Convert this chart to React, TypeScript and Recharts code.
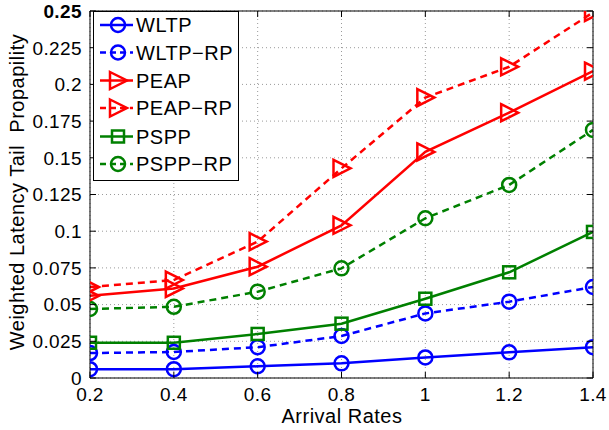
import React from 'react';
import { LineChart, Line, XAxis, YAxis, CartesianGrid } from 'recharts';

const arrivalRates = [0.2, 0.4, 0.6, 0.8, 1.0, 1.2, 1.4];
const wltp = [0.006, 0.006, 0.008, 0.010, 0.014, 0.0175, 0.021];
const wltpRp = [0.017, 0.0177, 0.021, 0.0286, 0.044, 0.052, 0.062];
const peap = [0.056, 0.061, 0.0758, 0.104, 0.154, 0.1807, 0.209];
const peapRp = [0.062, 0.0667, 0.0929, 0.1428, 0.191, 0.212, 0.249];
const pspp = [0.024, 0.024, 0.030, 0.037, 0.054, 0.072, 0.0995];
const psppRp = [0.047, 0.0485, 0.0588, 0.0747, 0.1088, 0.1315, 0.169];

const xTicks = [0.2, 0.4, 0.6, 0.8, 1.0, 1.2, 1.4];
const xTickLabels = ['0.2', '0.4', '0.6', '0.8', '1', '1.2', '1.4'];
const yTicks = [0, 0.025, 0.05, 0.075, 0.1, 0.125, 0.15, 0.175, 0.2, 0.225, 0.25];
const yTickLabels = ['0', '0.025', '0.05', '0.075', '0.1', '0.125', '0.15', '0.175', '0.2', '0.225', '0.25'];

const seriesNames = ['WLTP', 'WLTP\u2212RP', 'PEAP', 'PEAP\u2212RP', 'PSPP', 'PSPP\u2212RP'];

const data = arrivalRates.map((x, i) => ({
  x,
  wltp: wltp[i],
  wltpRp: wltpRp[i],
  peap: peap[i],
  peapRp: peapRp[i],
  pspp: pspp[i],
  psppRp: psppRp[i],
}));

const BLUE = '#0000ff';
const RED = '#ff0000';
const GREEN = '#008000';
const FONT = '"Liberation Sans", Arial, Helvetica, sans-serif';
const LW = 2.5;
const DASH = '7 5';

type MarkerKind = 'circle' | 'triangle' | 'square';

const MarkerShape = ({ kind, cx, cy, color }: { kind: MarkerKind; cx: number; cy: number; color: string }) => {
  if (kind === 'circle') {
    return <circle cx={cx} cy={cy} r={7} fill="none" stroke={color} strokeWidth={LW} />;
  }
  if (kind === 'triangle') {
    const pts = `${cx - 8},${cy - 8.5} ${cx + 9},${cy} ${cx - 8},${cy + 8.5}`;
    return <polygon points={pts} fill="none" stroke={color} strokeWidth={LW} strokeLinejoin="miter" />;
  }
  return <rect x={cx - 6} y={cy - 6} width={12} height={12} fill="none" stroke={color} strokeWidth={LW} />;
};

const makeDot = (kind: MarkerKind, color: string) => (props: any) => {
  const { cx, cy, index } = props;
  if (cx == null || cy == null) return <g key={`d-${index}`} />;
  return (
    <g key={`d-${kind}-${color}-${index}`}>
      <MarkerShape kind={kind} cx={cx} cy={cy} color={color} />
    </g>
  );
};

const fmtX = (v: number) => {
  const i = xTicks.findIndex((t) => Math.abs(t - v) < 1e-9);
  return i >= 0 ? xTickLabels[i] : String(v);
};
const fmtY = (v: number) => {
  const i = yTicks.findIndex((t) => Math.abs(t - v) < 1e-9);
  return i >= 0 ? yTickLabels[i] : String(v);
};

const LeftTick = (props: any) => {
  const { x, y, payload } = props;
  const isTop = Math.abs(payload.value - 0.25) < 1e-9;
  return (
    <g>
      <line x1={x} x2={x + 6} y1={y} y2={y} stroke="#000" strokeWidth={1} />
      <text
        x={x - 8}
        y={y}
        dy="0.36em"
        textAnchor="end"
        fontSize={19}
        fontFamily={FONT}
        letterSpacing={0.4}
        fontWeight={isTop ? 'bold' : 'normal'}
        fill="#000"
      >
        {fmtY(payload.value)}
      </text>
    </g>
  );
};

const RightTick = (props: any) => {
  const { x, y } = props;
  return <line x1={x} x2={x - 6} y1={y} y2={y} stroke="#000" strokeWidth={1} />;
};

const BottomTick = (props: any) => {
  const { x, y, payload } = props;
  return (
    <g>
      <line x1={x} x2={x} y1={y} y2={y - 6} stroke="#000" strokeWidth={1} />
      <text
        x={x}
        y={y + 16}
        dy="0.36em"
        textAnchor="middle"
        fontSize={19}
        fontFamily={FONT}
        letterSpacing={0.4}
        fill="#000"
      >
        {fmtX(payload.value)}
      </text>
    </g>
  );
};

const TopTick = (props: any) => {
  const { x, y } = props;
  return <line x1={x} x2={x} y1={y} y2={y + 6} stroke="#000" strokeWidth={1} />;
};

const legendItems: { name: string; color: string; dashed: boolean; kind: MarkerKind }[] = [
  { name: seriesNames[0], color: BLUE, dashed: false, kind: 'circle' },
  { name: seriesNames[1], color: BLUE, dashed: true, kind: 'circle' },
  { name: seriesNames[2], color: RED, dashed: false, kind: 'triangle' },
  { name: seriesNames[3], color: RED, dashed: true, kind: 'triangle' },
  { name: seriesNames[4], color: GREEN, dashed: false, kind: 'square' },
  { name: seriesNames[5], color: GREEN, dashed: true, kind: 'circle' },
];

const LegendBox = () => {
  const rowY = [25, 52.5, 80.5, 108, 136.5, 164];
  return (
    <svg
      width={609}
      height={430}
      style={{ position: 'absolute', left: 0, top: 0, pointerEvents: 'none' }}
    >
      <rect x={93.5} y={11.5} width={145} height={169} fill="#fff" stroke="#000" strokeWidth={1} />
      {legendItems.map((it, i) => (
        <g key={it.name}>
          <line
            x1={100}
            x2={133}
            y1={rowY[i]}
            y2={rowY[i]}
            stroke={it.color}
            strokeWidth={LW}
            strokeDasharray={it.dashed ? '6 4' : undefined}
          />
          <MarkerShape kind={it.kind} cx={118} cy={rowY[i]} color={it.color} />
          <text
            x={136}
            y={rowY[i]}
            dy="0.36em"
            fontSize={20}
            fontFamily={FONT}
            letterSpacing={0.5}
            fill="#000"
          >
            {it.name}
          </text>
        </g>
      ))}
    </svg>
  );
};

export default function App() {
  return (
    <div style={{ position: 'absolute', left: 0, top: 0, width: 609, height: 430, background: '#fff' }}>
      <LineChart
        width={609}
        height={430}
        data={data}
        margin={{ top: 10, right: 15, bottom: 22, left: 30 }}
      >
        <CartesianGrid stroke="#9a9a9a" strokeDasharray="1 3" strokeWidth={1} />
        <XAxis
          dataKey="x"
          type="number"
          domain={[0.2, 1.4]}
          ticks={xTicks}
          interval={0}
          height={30}
          tickSize={0}
          tickMargin={0}
          tickLine={false}
          axisLine={{ stroke: '#000', strokeWidth: 1 }}
          tick={<BottomTick />}
          allowDataOverflow
        />
        <XAxis
          xAxisId="top"
          orientation="top"
          dataKey="x"
          type="number"
          domain={[0.2, 1.4]}
          ticks={xTicks}
          interval={0}
          height={1}
          tickSize={0}
          tickMargin={0}
          tickLine={false}
          axisLine={{ stroke: '#000', strokeWidth: 1 }}
          tick={<TopTick />}
          allowDataOverflow
        />
        <YAxis
          type="number"
          domain={[0, 0.25]}
          ticks={yTicks}
          interval={0}
          width={60}
          tickSize={0}
          tickMargin={0}
          tickLine={false}
          axisLine={{ stroke: '#000', strokeWidth: 1 }}
          tick={<LeftTick />}
          allowDataOverflow
        />
        <YAxis
          yAxisId="right"
          orientation="right"
          type="number"
          domain={[0, 0.25]}
          ticks={yTicks}
          interval={0}
          width={1}
          tickSize={0}
          tickMargin={0}
          tickLine={false}
          axisLine={{ stroke: '#000', strokeWidth: 1 }}
          tick={<RightTick />}
          allowDataOverflow
        />
        <Line dataKey="wltp" name={seriesNames[0]} stroke={BLUE} strokeWidth={LW} dot={makeDot('circle', BLUE)} isAnimationActive={false} activeDot={false} />
        <Line dataKey="wltpRp" name={seriesNames[1]} stroke={BLUE} strokeWidth={LW} strokeDasharray={DASH} dot={makeDot('circle', BLUE)} isAnimationActive={false} activeDot={false} />
        <Line dataKey="pspp" name={seriesNames[4]} stroke={GREEN} strokeWidth={LW} dot={makeDot('square', GREEN)} isAnimationActive={false} activeDot={false} />
        <Line dataKey="psppRp" name={seriesNames[5]} stroke={GREEN} strokeWidth={LW} strokeDasharray={DASH} dot={makeDot('circle', GREEN)} isAnimationActive={false} activeDot={false} />
        <Line dataKey="peap" name={seriesNames[2]} stroke={RED} strokeWidth={LW} dot={makeDot('triangle', RED)} isAnimationActive={false} activeDot={false} />
        <Line dataKey="peapRp" name={seriesNames[3]} stroke={RED} strokeWidth={LW} strokeDasharray={DASH} dot={makeDot('triangle', RED)} isAnimationActive={false} activeDot={false} />
      </LineChart>
      <LegendBox />
      <svg width={609} height={430} style={{ position: 'absolute', left: 0, top: 0, pointerEvents: 'none' }}>
        <text
          x={342}
          y={416}
          dy="0.36em"
          textAnchor="middle"
          fontSize={20}
          fontFamily={FONT}
          letterSpacing={0.5}
          fill="#000"
        >
          Arrival Rates
        </text>
        <text
          x={0}
          y={0}
          transform="translate(17 192) rotate(-90)"
          dy="0.36em"
          textAnchor="middle"
          fontSize={20}
          fontFamily={FONT}
          letterSpacing={0.5}
          fill="#000"
          style={{ whiteSpace: 'pre' }}
        >
          {'Weighted Latency Tail  Propapility'}
        </text>
      </svg>
    </div>
  );
}
